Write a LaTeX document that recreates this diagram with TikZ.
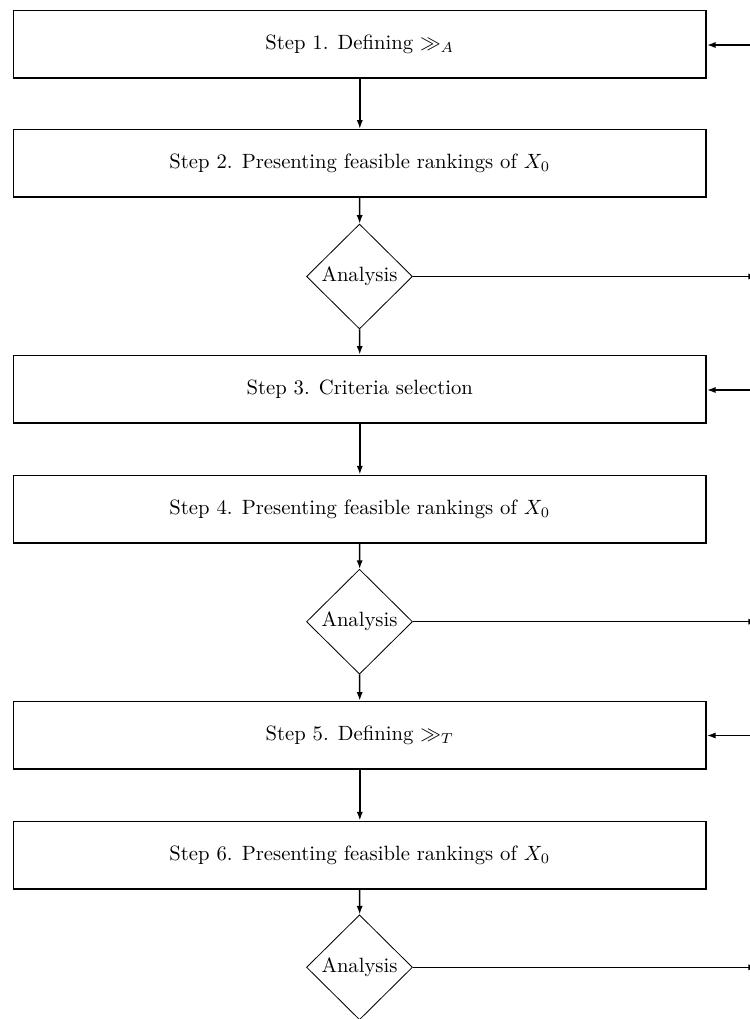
\documentclass[tikz,border=0pt]{standalone}
\usetikzlibrary{shapes.geometric,arrows.meta}
\tikzset{
  stepbox/.style={draw, line width=0.8pt, minimum width=335.2pt, minimum height=32.6pt, inner sep=0pt, font=\normalsize},
  decision/.style={draw, diamond, line width=0.4pt, minimum width=51.3pt, minimum height=50.8pt, inner sep=0pt},
  flow/.style={line width=0.75pt, -{Latex[length=4.2pt,width=3pt]}}
}
\begin{document}
\begin{tikzpicture}[x=0.484pt,y=-0.484pt]
\useasboundingbox (0,0) rectangle (749,1019);
\node[stepbox] (s1) at (359.8,44) {Step 1. Defining $\gg_A$};
\node[stepbox] (s2) at (359.8,163.3) {Step 2. Presenting feasible rankings of $X_0$};
\node[decision] (d1) at (359.5,276.5) {Analysis};
\node[stepbox] (s3) at (359.8,389.2) {Step 3. Criteria selection};
\node[stepbox] (s4) at (359.8,509) {Step 4. Presenting feasible rankings of $X_0$};
\node[decision] (d2) at (359.5,621.7) {Analysis};
\node[stepbox] (s5) at (359.8,735.2) {Step 5. Defining $\gg_T$};
\node[stepbox] (s6) at (359.8,855) {Step 6. Presenting feasible rankings of $X_0$};
\node[decision] (d3) at (359.5,967.3) {Analysis};

\coordinate (r1) at (760,45);
\coordinate (r3) at (760,390);
\coordinate (r5) at (760,735.5);
\coordinate (o1) at (757,276.5);
\coordinate (o2) at (757,621.7);
\coordinate (o3) at (757,967.3);

\draw[flow] (s1) -- (s2);
\draw[flow] (s2) -- (d1);
\draw[flow] (d1) -- (s3);
\draw[flow] (s3) -- (s4);
\draw[flow] (s4) -- (d2);
\draw[flow] (d2) -- (s5);
\draw[flow] (s5) -- (s6);
\draw[flow] (s6) -- (d3);

\draw[flow] (r1) -- (r1 -| s1.east);
\draw[flow] (r3) -- (r3 -| s3.east);
\draw[flow] (r5) -- (r5 -| s5.east);

\draw[flow] (d1.east) -- (o1);
\draw[flow] (d2.east) -- (o2);
\draw[flow] (d3.east) -- (o3);
\end{tikzpicture}
\end{document}
